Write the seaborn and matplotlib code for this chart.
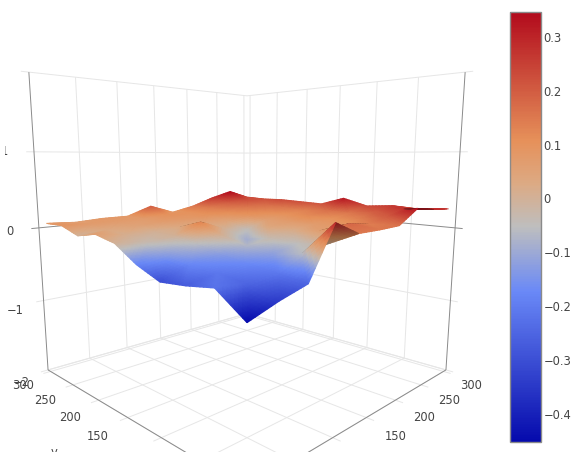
import numpy as np
import matplotlib
matplotlib.use("Agg")
import matplotlib.pyplot as plt
import seaborn as sns
from matplotlib.collections import TriMesh
from matplotlib.colors import LinearSegmentedColormap, Normalize
from matplotlib.cm import ScalarMappable
from matplotlib.patches import Rectangle
from matplotlib.tri import Triangulation
from mpl_toolkits.mplot3d import proj3d

# ---- data ----
x_nodes = [0, 32, 64, 96, 128, 160, 192, 224, 256, 288]
y_nodes = [0, 32, 64, 96, 128, 160, 192, 224, 256, 288]
z_y000 = [-0.452, -0.34, -0.25, 0.30, 0.15, 0.15, 0.16, 0.33, 0.29, 0.27]
z_y032 = [-0.22, -0.25, -0.21, -0.06, -0.01, 0.18, 0.14, 0.20, 0.27, 0.24]
z_y064 = [-0.27, -0.21, -0.17, -0.12, -0.05, 0.06, 0.08, 0.13, 0.20, 0.26]
z_y096 = [-0.30, -0.17, -0.13, -0.07, -0.03, 0.01, 0.07, 0.10, 0.15, 0.23]
z_y128 = [-0.18, -0.12, -0.06, 0.00, -0.09, 0.04, 0.07, 0.12, 0.16, 0.32]
z_y160 = [0.00, -0.03, 0.00, 0.13, 0.00, -0.05, 0.06, 0.10, 0.13, 0.21]
z_y192 = [0.06, 0.01, 0.00, 0.03, 0.05, 0.05, 0.10, 0.12, 0.15, 0.22]
z_y224 = [0.00, 0.03, 0.05, 0.07, 0.08, 0.10, 0.12, 0.15, 0.17, 0.23]
z_y256 = [0.09, 0.07, 0.07, 0.07, 0.10, 0.10, 0.14, 0.19, 0.22, 0.22]
z_y288 = [0.08, 0.06, 0.08, 0.08, 0.20, 0.08, 0.15, 0.26, 0.347, 0.23]
z_rows = [z_y000, z_y032, z_y064, z_y096, z_y128, z_y160, z_y192, z_y224, z_y256, z_y288]

xy_ticks = [0, 50, 100, 150, 200, 250, 300]
xy_labels = [100, 150, 200, 250, 300]
z_ticks = [-2, -1, 0, 1, 2]
z_labels = [-2, -1, 0, 1]
cbar_ticks = [-0.4, -0.3, -0.2, -0.1, 0, 0.1, 0.2, 0.3]
scale_stops = [0, 0.35, 0.5, 0.6, 0.7, 1]
scale_colors = ["#050aac", "#6a89f7", "#bebebe", "#dcaa84", "#e6915a", "#b20a1c"]

# ---- style and layout ----
sns.set_theme(style="white", rc={"font.family": "DejaVu Sans", "font.size": 8.3})
plt.rcParams["axes.unicode_minus"] = True
TXT = "#444444"
GRID = "#e6e6e6"
AXIS = "#8a8a8a"
FW, FH = 585, 471
XMAX = 306
EXT = 8

fig = plt.figure(figsize=(FW / 100, FH / 100), dpi=100, facecolor="white")
W = 600
FRAC = 0.95 / 1.85
cx, cy = 247, FH - 250
ax = fig.add_axes([(cx - FRAC * W) / FW, (cy - FRAC * W) / FH, W / FW, W / FH],
                  projection="3d", computed_zorder=False)
ax.set_axis_off()
ax.set_xlim(0, XMAX)
ax.set_ylim(0, XMAX)
ax.set_zlim(-2.6, 2)
ax.set_box_aspect((1, 1, 1.17), zoom=0.868)
ax.view_init(elev=9.7, azim=-135)
ax.set_proj_type("persp", focal_length=0.169)

clip = Rectangle((5 / FW, 19 / FH), 485 / FW, 452 / FH, transform=fig.transFigure)


def seg(xs, ys, zs, color=GRID, lw=0.7, z=1):
    ln, = ax.plot(xs, ys, zs, color=color, lw=lw, zorder=z, solid_capstyle="butt")
    ln.set_clip_path(clip)


# grid on walls and floor
for t in xy_ticks[1:]:
    seg([t, t], [XMAX, XMAX], [-2, 2])
    seg([XMAX, XMAX], [t, t], [-2, 2])
for t in xy_ticks:
    seg([t, t], [-EXT, XMAX], [-2, -2])
    seg([-EXT, XMAX], [t, t], [-2, -2])
for zt in z_ticks:
    col, zo = (AXIS, 1.5) if zt == 0 else (GRID, 1)
    seg([-EXT, XMAX], [XMAX, XMAX], [zt, zt], col, 0.7, zo)
    seg([XMAX, XMAX], [-EXT, XMAX], [zt, zt], col, 0.7, zo)
seg([XMAX, XMAX], [0, XMAX], [-2, -2])
seg([0, XMAX], [XMAX, XMAX], [-2, -2])
# axis lines
seg([0, 0], [XMAX, XMAX], [-2, 2], AXIS, 0.7, 1.6)
seg([XMAX, XMAX], [0, 0], [-2, 2], AXIS, 0.7, 1.6)
seg([0, 0], [0, XMAX], [-2, -2], AXIS, 0.7, 1.6)
seg([0, XMAX], [0, 0], [-2, -2], AXIS, 0.7, 1.6)

# surface: Gouraud triangles painted back to front; each mesh face is split
# within its own plane so that its colours follow the scale, not a straight RGB blend
Z = np.array(z_rows)
X, Y = np.meshgrid(x_nodes, y_nodes)
V = np.column_stack([X.ravel(), Y.ravel(), Z.ravel()]).astype(float)
norm = Normalize(Z.min(), Z.max())
cmap = LinearSegmentedColormap.from_list(
    "rdbu_old", list(zip(scale_stops, sns.color_palette(scale_colors))), N=256)
M = ax.get_proj()
px, py, pz = proj3d.proj_transform(V[:, 0], V[:, 1], V[:, 2], M)
ny, nx = Z.shape
tris = []
for j in range(ny - 1):
    for i in range(nx - 1):
        a, b, c, d = j * nx + i, j * nx + i + 1, (j + 1) * nx + i + 1, (j + 1) * nx + i
        tris += [(a, b, c), (a, c, d)]
tris = np.array(tris)
tris = tris[np.argsort(-pz[tris].mean(axis=1))]
ex = px[tris[:, 1]] - px[tris[:, 0]]
ey = py[tris[:, 1]] - py[tris[:, 0]]
fx = px[tris[:, 2]] - px[tris[:, 0]]
fy = py[tris[:, 2]] - py[tris[:, 0]]
under = (ex * fy - ey * fx) < 0  # faces seen from beneath are darker

N = 8
index = {}
bary = []
for p in range(N + 1):
    for q in range(N + 1 - p):
        index[(p, q)] = len(bary)
        bary.append((p / N, q / N, 1 - (p + q) / N))
bary = np.array(bary)
sub = []
for p in range(N):
    for q in range(N - p):
        sub.append((index[(p, q)], index[(p + 1, q)], index[(p, q + 1)]))
        if p + q < N - 1:
            sub.append((index[(p + 1, q)], index[(p + 1, q + 1)], index[(p, q + 1)]))
sub = np.array(sub)

pts = np.einsum("kc,tcd->tkd", bary, V[tris])        # faces × points × xyz
pts_tri = pts[:, sub, :].reshape(-1, 3)              # three corners per sub-triangle
sx, sy, _ = proj3d.proj_transform(pts_tri[:, 0], pts_tri[:, 1], pts_tri[:, 2], M)
rgba = cmap(norm(pts_tri[:, 2]))
rgba[np.repeat(under, 3 * len(sub)), :3] *= 0.68
mesh = TriMesh(Triangulation(sx, sy, np.arange(len(sx)).reshape(-1, 3)),
               transform=ax.transData, zorder=3)
mesh.set_facecolor(rgba)
mesh.do_3d_projection = lambda: 0
ax.add_collection(mesh, autolim=False)
mesh.set_clip_path(clip)


def label(x, y, z, s):
    t = ax.text(x, y, z, s, color=TXT, fontsize=8.3, ha="center", va="center",
                clip_on=True, zorder=5)
    t.set_clip_path(clip)


for t in xy_labels:
    label(t, -30, -2.09, str(t))
    label(-30, t, -2.09, str(t))
for zt, zp in zip(z_labels, [-2.07, -1.06, -0.01, 1.0]):
    label(-30, XMAX, zp, str(zt).replace("-", "\u2212"))
label(137, -75, -2, "x")
label(-75, 137, -1.97, "y")

# colour bar
cax = fig.add_axes([509.5 / FW, (FH - 442) / FH, 31 / FW, 430.5 / FH])
cb = fig.colorbar(ScalarMappable(norm=norm, cmap=cmap), cax=cax, ticks=cbar_ticks)
cb.ax.set_yticklabels(["\u22120.4", "\u22120.3", "\u22120.2", "\u22120.1", "0", "0.1", "0.2", "0.3"],
                      color=TXT, fontsize=8.3)
cb.ax.tick_params(length=0, pad=2.2)
cb.outline.set_edgecolor("#8a8a8a")
cb.outline.set_linewidth(1.0)

fig.savefig("out.png", dpi=100, facecolor="white")
